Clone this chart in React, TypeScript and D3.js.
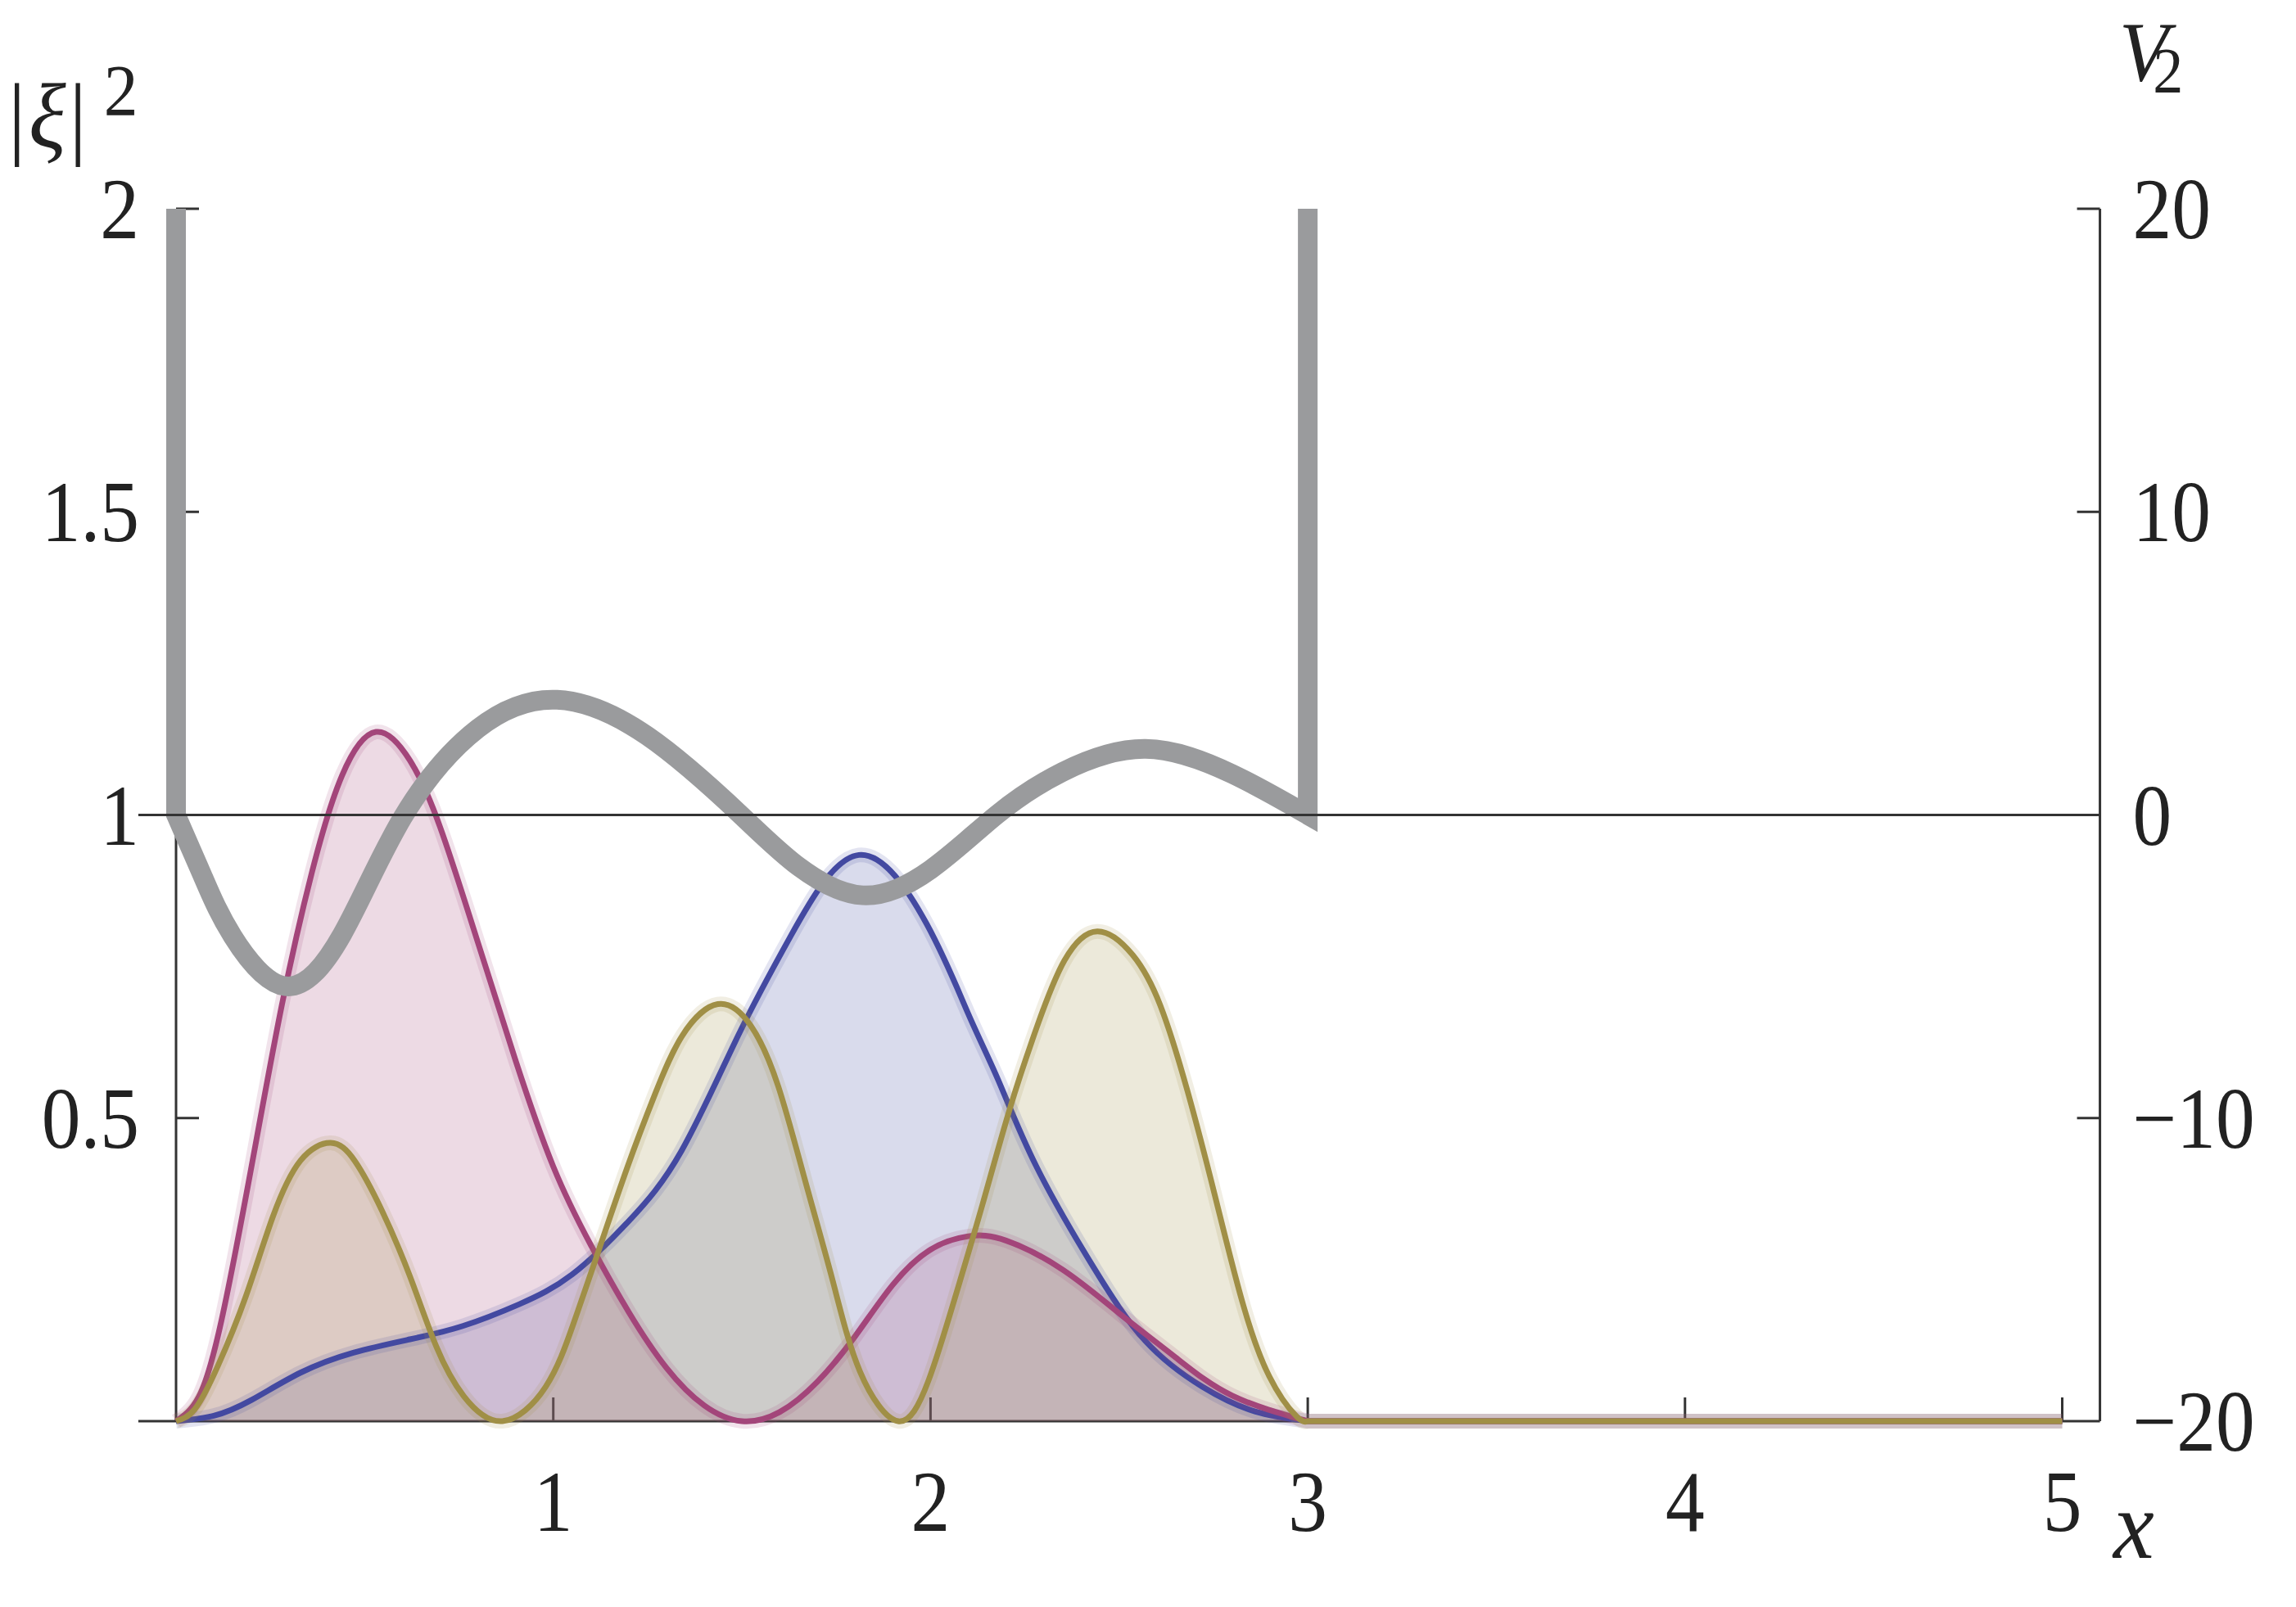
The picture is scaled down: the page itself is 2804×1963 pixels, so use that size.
import { useRef, useEffect } from "react";
import * as d3 from "d3";

const WIDTH = 2804;
const HEIGHT = 1963;

// |xi|^2 curves, [x, value]
const blueDensity: [number, number][] = [
  [0, 0], [0.1, 0.009], [0.2, 0.035], [0.33, 0.08], [0.47, 0.113], [0.62, 0.135],
  [0.76, 0.157], [0.91, 0.193], [1.05, 0.242], [1.2, 0.33], [1.34, 0.446], [1.49, 0.636],
  [1.63, 0.801], [1.81, 0.934], [1.99, 0.82], [2.1, 0.672], [2.18, 0.562], [2.28, 0.421],
  [2.43, 0.256], [2.57, 0.132], [2.72, 0.057], [2.86, 0.016], [3, 0], [4, 0], [5, 0],
];

const magentaDensity: [number, number][] = [
  [0, 0], [0.06, 0.04], [0.12, 0.165], [0.2, 0.42], [0.28, 0.685], [0.36, 0.905],
  [0.44, 1.065], [0.53, 1.137], [0.62, 1.09], [0.7, 0.98], [0.8, 0.79], [0.9, 0.595],
  [1.0, 0.42], [1.1, 0.29], [1.2, 0.18], [1.3, 0.088], [1.4, 0.026], [1.5, 0],
  [1.6, 0.015], [1.7, 0.065], [1.8, 0.14], [1.9, 0.225], [2.0, 0.283], [2.1, 0.305],
  [2.2, 0.298], [2.35, 0.25], [2.5, 0.178], [2.65, 0.105], [2.8, 0.042], [3, 0],
  [4, 0], [5, 0],
];

const oliveDensity: [number, number][] = [
  [0, 0], [0.05, 0.02], [0.11, 0.09], [0.185, 0.206], [0.257, 0.338], [0.33, 0.43],
  [0.41, 0.459], [0.474, 0.429], [0.546, 0.347], [0.62, 0.239], [0.69, 0.123], [0.763, 0.041],
  [0.865, 0], [0.98, 0.057], [1.053, 0.16], [1.114, 0.27], [1.197, 0.42], [1.27, 0.54],
  [1.342, 0.636], [1.436, 0.688], [1.523, 0.653], [1.596, 0.553], [1.668, 0.396], [1.741, 0.231],
  [1.813, 0.082], [1.914, 0], [1.994, 0.066], [2.066, 0.206], [2.138, 0.358], [2.21, 0.515],
  [2.283, 0.652], [2.355, 0.76], [2.442, 0.808], [2.536, 0.769], [2.609, 0.686], [2.681, 0.545],
  [2.754, 0.372], [2.826, 0.198], [2.898, 0.074], [2.97, 0.008], [3, 0], [4, 0], [5, 0],
];

// V2 potential, [x, V]
const potential: [number, number][] = [
  [0, 0], [0.07, -2.0], [0.15, -4.0], [0.29, -5.65], [0.44, -3.95], [0.6, -0.1],
  [0.8, 2.85], [1.01, 3.8], [1.25, 2.6], [1.497, 0], [1.65, -1.7], [1.82, -2.65],
  [2.0, -1.8], [2.175, 0], [2.35, 1.42], [2.57, 2.18], [2.8, 1.35], [3, 0],
];
const wallX = [0, 3];
const wallTop = 20;

const xTicks = [1, 2, 3, 4, 5];
const yTicks = [0.5, 1, 1.5, 2];
const yTickLabels = ["0.5", "1", "1.5", "2"];
const vTicks = [-20, -10, 0, 10, 20];
const vTickLabels = ["\u221220", "\u221210", "0", "10", "20"];

const colors = {
  blue: "#4349a1",
  magenta: "#a3457a",
  olive: "#a08f46",
  grey: "#9a9b9d",
  axis: "#333333",
};

function App() {
  const svgRef = useRef<SVGSVGElement>(null);

  useEffect(() => {
    const svg = d3.select(svgRef.current);
    svg.selectAll("*").remove();

    const x = d3.scaleLinear().domain([0, 5]).range([215, 2518.5]);
    const y = d3.scaleLinear().domain([0, 2]).range([1736, 255]);
    const v = d3.scaleLinear().domain([-20, 20]).range([1736, 255]);
    const xLo = -0.1;
    const xHi = 5.1;
    const xWell = wallX[1];
    const font = "'Liberation Serif', 'Times New Roman', serif";
    const fs = 106;

    const axes = svg.append("g").attr("stroke", colors.axis).attr("stroke-width", 3);
    // bottom axis
    axes.append("line")
      .attr("x1", x(xLo)).attr("x2", x(xHi))
      .attr("y1", y(0)).attr("y2", y(0));
    // left axis
    axes.append("line")
      .attr("x1", x(0)).attr("x2", x(0))
      .attr("y1", y(0)).attr("y2", y(2));
    // right axis
    axes.append("line")
      .attr("x1", x(xHi)).attr("x2", x(xHi))
      .attr("y1", v(-20)).attr("y2", v(20));
    // ticks
    axes.selectAll(".xt").data(xTicks).join("line")
      .attr("x1", (d) => x(d)).attr("x2", (d) => x(d))
      .attr("y1", y(0)).attr("y2", y(0) - 29);
    axes.selectAll(".yt").data(yTicks).join("line")
      .attr("x1", x(0)).attr("x2", x(0) + 28)
      .attr("y1", (d) => y(d)).attr("y2", (d) => y(d));
    axes.selectAll(".vt").data(vTicks.slice(1)).join("line")
      .attr("x1", x(xHi)).attr("x2", x(xHi) - 28)
      .attr("y1", (d) => v(d)).attr("y2", (d) => v(d));

    // tick labels
    const labels = svg.append("g")
      .attr("font-family", font).attr("font-size", fs).attr("fill", "#222");
    labels.selectAll(".xl").data(xTicks).join("text")
      .attr("transform", (d) => `translate(${x(d)},${y(0) + 134}) scale(0.9,1)`)
      .attr("text-anchor", "middle")
      .text((d) => d);
    labels.selectAll(".yl").data(yTicks).join("text")
      .attr("transform", (d) => `translate(${x(0) - 45},${y(d) + 36}) scale(0.9,1)`)
      .attr("text-anchor", "end")
      .text((d, i) => yTickLabels[i]);
    labels.selectAll(".vl").data(vTicks).join("text")
      .attr("transform", (d) => `translate(${x(xHi) + 40},${v(d) + 36}) scale(0.9,1)`)
      .attr("text-anchor", "start")
      .text((d, i) => vTickLabels[i]);

    // axis titles
    labels.append("text")
      .attr("transform", `translate(2581,1903) scale(0.95,1)`)
      .attr("font-style", "italic").attr("font-size", 118)
      .text("x");
    const xiLabel = labels.append("text")
      .attr("transform", "translate(10,180) scale(0.95,1)")
      .attr("font-size", 112);
    xiLabel.append("tspan").text("|");
    xiLabel.append("tspan").attr("font-style", "italic").attr("dx", 4).text("\u03be");
    xiLabel.append("tspan").attr("dx", 4).text("|");
    xiLabel.append("tspan").attr("font-size", 88).attr("dx", 22).attr("dy", -40).text("2");

    const vLabel = labels.append("text")
      .attr("transform", "translate(2588,98) scale(0.95,1)")
      .attr("font-size", 104);
    vLabel.append("tspan").attr("font-style", "italic").text("V");
    vLabel.append("tspan").attr("font-size", 78).attr("dx", -20).attr("dy", 14).text("2");

    // densities: smooth spline inside the well, straight zero line outside
    const series = [
      { data: blueDensity, color: colors.blue },
      { data: magentaDensity, color: colors.magenta },
      { data: oliveDensity, color: colors.olive },
    ];
    const area = d3.area<[number, number]>()
      .x((d) => x(d[0]))
      .y0(y(0))
      .y1((d) => y(Math.max(0, d[1])))
      .curve(d3.curveNatural);
    const line = d3.line<[number, number]>()
      .x((d) => x(d[0]))
      .y((d) => y(d[1]))
      .curve(d3.curveNatural);
    const straight = d3.line<[number, number]>()
      .x((d) => x(d[0]))
      .y((d) => y(d[1]));
    const fullLine = (data: [number, number][]) => {
      const head = data.filter((d) => d[0] <= xWell);
      const tail = data.filter((d) => d[0] >= xWell);
      return (line(head) || "") + (straight(tail) || "").replace(/^M/, "L");
    };

    const plot = svg.append("g");
    series.forEach((s) => {
      plot.append("path")
        .attr("d", area(s.data.filter((d) => d[0] <= xWell)))
        .attr("fill", s.color)
        .attr("fill-opacity", 0.2);
    });
    series.forEach((s) => {
      const d = fullLine(s.data);
      plot.append("path")
        .attr("d", d)
        .attr("fill", "none")
        .attr("stroke", s.color)
        .attr("stroke-opacity", 0.15)
        .attr("stroke-width", 18)
        .attr("stroke-linejoin", "round");
      plot.append("path")
        .attr("d", d)
        .attr("fill", "none")
        .attr("stroke", s.color)
        .attr("stroke-width", 7)
        .attr("stroke-linejoin", "round");
    });

    // potential with walls
    const vLine = d3.line<[number, number]>()
      .x((d) => x(d[0]))
      .y((d) => v(d[1]))
      .curve(d3.curveNatural);
    const inner = (vLine(potential) || "").replace(/^M/, "L");
    const pathD =
      `M${x(wallX[0])},${v(wallTop)}L${x(wallX[0])},${v(0)}` +
      inner +
      `L${x(wallX[1])},${v(wallTop)}`;
    svg.append("path")
      .attr("d", pathD)
      .attr("fill", "none")
      .attr("stroke", colors.grey)
      .attr("stroke-width", 24)
      .attr("stroke-linejoin", "miter")
      .attr("stroke-miterlimit", 4);

    // V = 0 axis on top
    svg.append("line")
      .attr("x1", x(xLo)).attr("x2", x(xHi))
      .attr("y1", v(0)).attr("y2", v(0))
      .attr("stroke", colors.axis)
      .attr("stroke-width", 3);
  }, []);

  return (
    <svg
      ref={svgRef}
      width={WIDTH}
      height={HEIGHT}
      style={{ position: "absolute", left: 0, top: 0, background: "#fff" }}
    />
  );
}

export default App;
